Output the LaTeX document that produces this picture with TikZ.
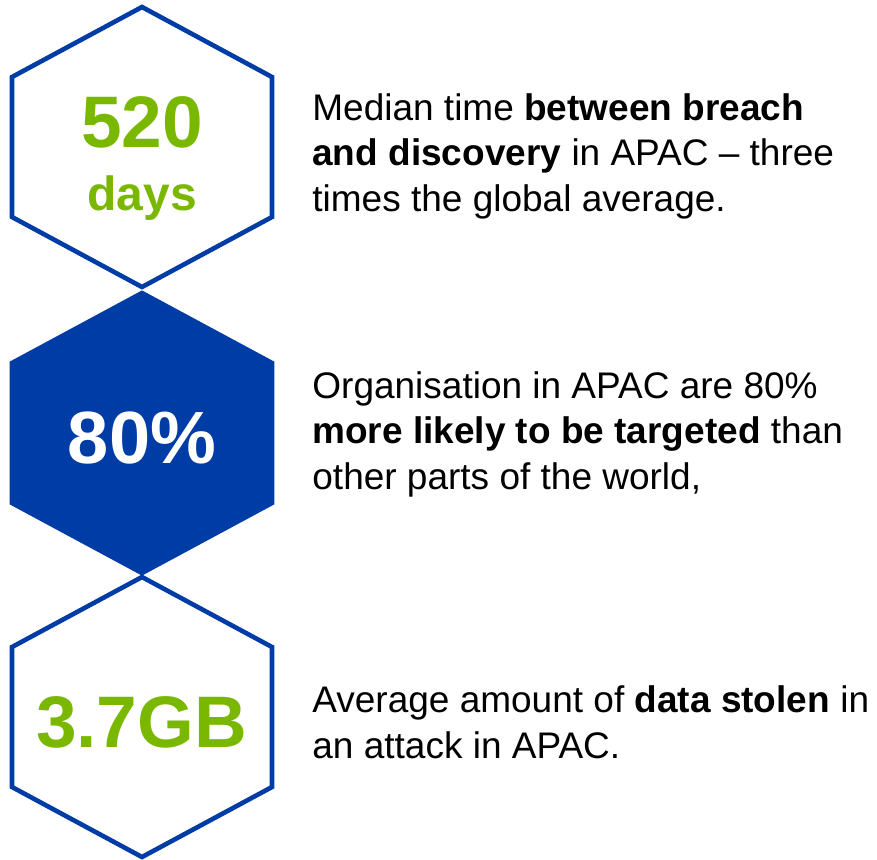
\documentclass[tikz,border=0pt]{standalone}
\usepackage{fontspec}
\setmainfont{Liberation Sans}
\usetikzlibrary{positioning}
\definecolor{APACblue}{RGB}{0,60,165}
\definecolor{APACgreen}{RGB}{122,184,0}

\begin{document}
\begin{tikzpicture}[x=0.5pt, y=-0.5pt,
    hexline/.style={APACblue, line width=2.3pt, line join=miter},
    fact/.style={anchor=base west, align=left, inner sep=0pt, font=\fontsize{18.5}{22.75}\selectfont},
    bignum/.style={anchor=base, inner sep=0pt, font=\bfseries\fontsize{36.5}{40}\selectfont}]
  \useasboundingbox (0,0) rectangle (877,859);
  % the three hexagons, the middle one filled
  \foreach \n/\cy/\f in {a/147/white, b/433/APACblue, c/717/white}{
    \draw[hexline, fill=\f] (142,\cy-140) -- (272,\cy-70) -- (272,\cy+70) -- (142,\cy+140)
      -- (12,\cy+70) -- (12,\cy-70) -- cycle;
    \coordinate (hex\n) at (142,\cy);
  }
  \node[bignum, APACgreen] (num520) at (142,147) {520};
  \node[anchor=base, inner sep=0pt, APACgreen, font=\bfseries\fontsize{24}{28}\selectfont] (days) at (142,210) {days};
  \node[bignum, white, font=\bfseries\fontsize{37}{40}\selectfont] (pct80) at (142,463) {80\%};
  \node[bignum, APACgreen] (gb37) at (141.5,747) {3.7GB};
  % facts (anchored on the baseline of the last line)
  \node[fact] (breach) at (312,211) {Median time \textbf{between breach}\\\textbf{and discovery} in APAC \textendash{} three\\times the global average.};
  \node[fact] (targeted) at (312,489) {Organisation in APAC are 80\%\\\textbf{more likely to be targeted} than\\other parts of the world,};
  \node[fact] (stolen) at (312,758) {Average amount of \textbf{data stolen} in\\an attack in APAC.};
\end{tikzpicture}
\end{document}
